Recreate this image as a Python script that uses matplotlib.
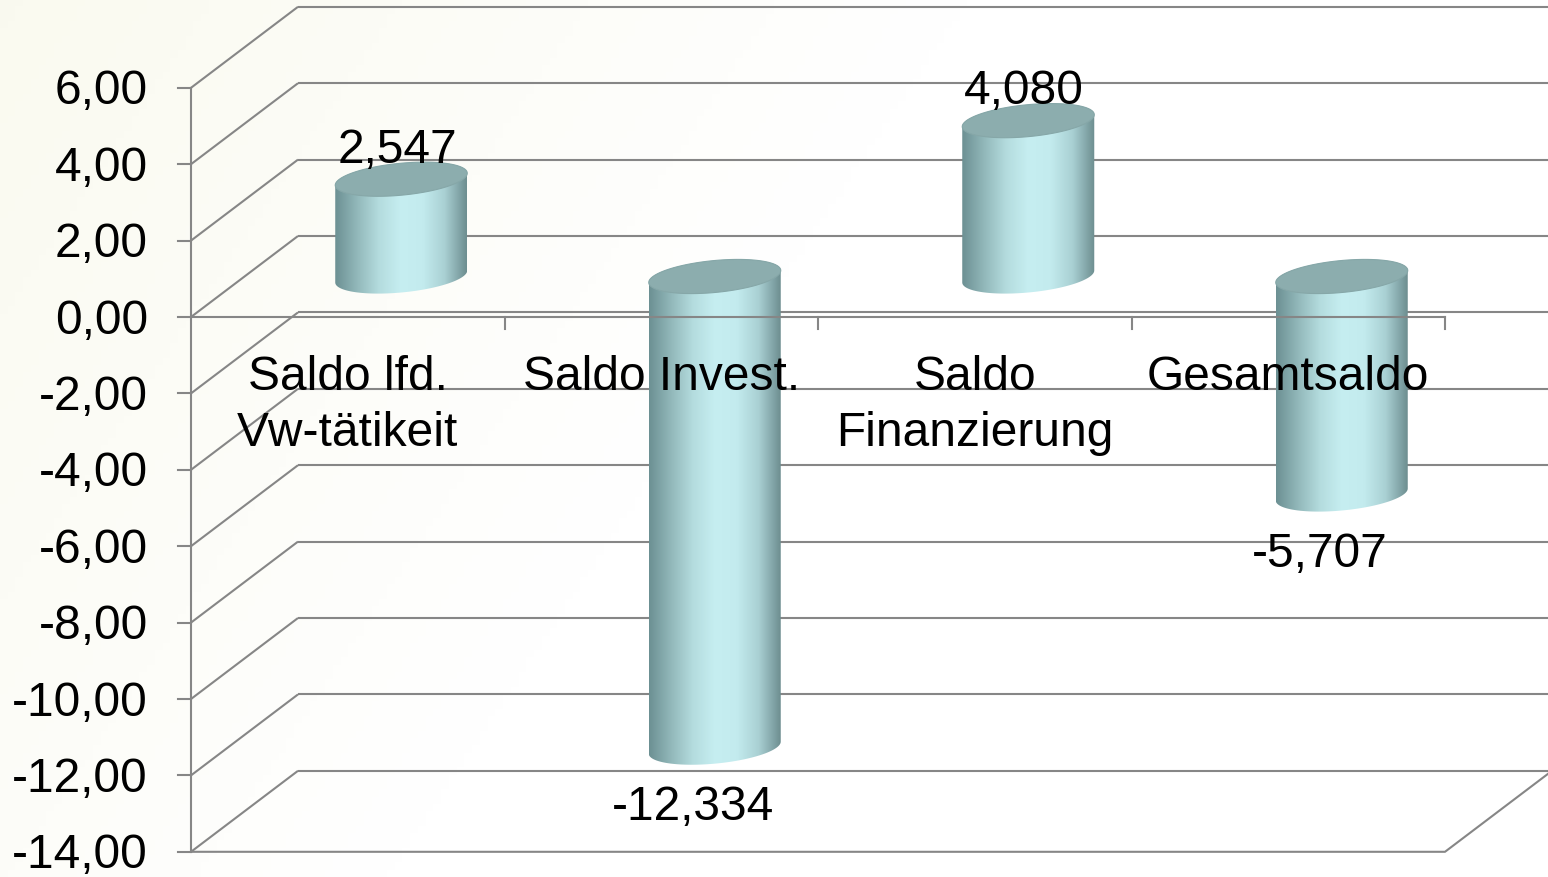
import numpy as np
import matplotlib.pyplot as plt
from matplotlib.patches import Polygon
from matplotlib.colors import LinearSegmentedColormap

# chart data
categories = ['Saldo lfd.\nVw-tätikeit', 'Saldo Invest.', 'Saldo\nFinanzierung', 'Gesamtsaldo']
values = [2.547, -12.334, 4.080, -5.707]
value_labels = ['2,547', '-12,334', '4,080', '-5,707']
y_ticks = [6, 4, 2, 0, -2, -4, -6, -8, -10, -12, -14]

plt.rcParams['font.family'] = ['Liberation Sans', 'DejaVu Sans']
FS = 34.5
GRID = '#868686'

W, H = 1548, 878
fig = plt.figure(figsize=(W / 100, H / 100), dpi=100)
ax = fig.add_axes([0, 0, 1, 1])

# pixel scale of the layout (per category, per unit value)
px_x, px_y = 313.5, 38.2
x0_px, y0_px = 191, 318
ax.set_xlim(-x0_px / px_x, (W - x0_px) / px_x)
ax.set_ylim((y0_px - H) / px_y, y0_px / px_y)
ax.axis('off')
xmin, xmax = ax.get_xlim()
ymin, ymax = ax.get_ylim()

def dx(p):
    return p / px_x

def dy(p):
    return p / px_y

# depth of the 3d box
DX, DY = dx(107), dy(81)
TXT = dy(-3)  # small downward nudge for text

# background: faint cream at top left
gx, gy = np.meshgrid(np.linspace(0, 1, 200), np.linspace(0, 1, 120))
t = np.clip(1 - (gx * 1.6 + gy * 0.6), 0, 1)
bg = np.ones((120, 200, 3))
cream = np.array([0.98, 0.98, 0.94])
for k in range(3):
    bg[:, :, k] = 1 - t * (1 - cream[k])
ax.imshow(bg, extent=[xmin, xmax, ymin, ymax], aspect='auto', origin='upper', zorder=0)

lw = 1.5
# side wall and back wall gridlines
for v in y_ticks:
    ax.plot([0, DX], [v, v + DY], color=GRID, lw=lw, zorder=1, solid_capstyle='butt')
    ax.plot([DX, xmax], [v + DY, v + DY], color=GRID, lw=lw, zorder=1, solid_capstyle='butt')
    ax.plot([dx(-13), 0], [v, v], color=GRID, lw=lw, zorder=1)
    ax.text(dx(-43), v + TXT, f'{v:.2f}'.replace('.', ','), ha='right', va='center',
            fontsize=FS, zorder=5)

n = len(categories)
# front value axis and floor
ax.plot([0, 0], [y_ticks[0], y_ticks[-1]], color=GRID, lw=lw, zorder=1)
ax.plot([0, n, n + DX], [y_ticks[-1], y_ticks[-1], y_ticks[-1] + DY],
        color=GRID, lw=lw, zorder=1)

# cylinders
stops = ['#6c9093', '#92b8ba', '#b4dcde', '#c6eef1', '#c3ebee', '#a9d0d3', '#6d8e90']
cmap = LinearSegmentedColormap.from_list('cyl', stops)
grad = np.linspace(0, 1, 256).reshape(1, -1)
a, b, tilt = dx(66), dy(16), dy(6)
tt = np.linspace(0, 2 * np.pi, 200)

def ellipse(cx, cy, t):
    return cx + a * np.cos(t), cy + b * np.sin(t) + tilt * np.cos(t)

for i, v in enumerate(values):
    cx = i + 0.5 + DX / 2
    base = DY / 2
    top, bot = max(v, 0) + base, min(v, 0) + base
    lower = np.linspace(np.pi, 2 * np.pi, 100)
    upper = np.linspace(0, np.pi, 100)
    bx, by = ellipse(cx, bot, lower)
    ux, uy = ellipse(cx, top, upper)
    px = np.concatenate([bx, ux])
    py = np.concatenate([by, uy])
    body = Polygon(np.column_stack([px, py]), closed=True, facecolor='none',
                   edgecolor='none', zorder=3)
    ax.add_patch(body)
    im = ax.imshow(grad, cmap=cmap, extent=[cx - a, cx + a, bot - b - tilt, top + b + tilt],
                   aspect='auto', zorder=3, interpolation='bicubic')
    im.set_clip_path(body)
    ex, ey = ellipse(cx, top, tt)
    ax.add_patch(Polygon(np.column_stack([ex, ey]), closed=True, facecolor='#8cadae',
                         edgecolor='#86a7a8', lw=0.8, zorder=4))
    if v >= 0:
        ax.text(cx - dx(4), top + dy(33) + TXT, value_labels[i], ha='center', va='center',
                fontsize=FS, zorder=6)
    else:
        ax.text(cx - dx(22), bot - dy(56) + TXT, value_labels[i], ha='center', va='center',
                fontsize=FS, zorder=6)

# category axis at zero
ax.plot([0, n], [0, 0], color=GRID, lw=lw, zorder=5)
for k in range(1, n + 1):
    ax.plot([k, k], [0, dy(-12)], color=GRID, lw=lw, zorder=5)

for i, lab in enumerate(categories):
    for j, line in enumerate(lab.split('\n')):
        ax.text(i + 0.5, dy(-57 - 55 * j) + TXT, line, ha='center', va='center',
                fontsize=FS, zorder=6)

fig.savefig('out.png', dpi=100)
